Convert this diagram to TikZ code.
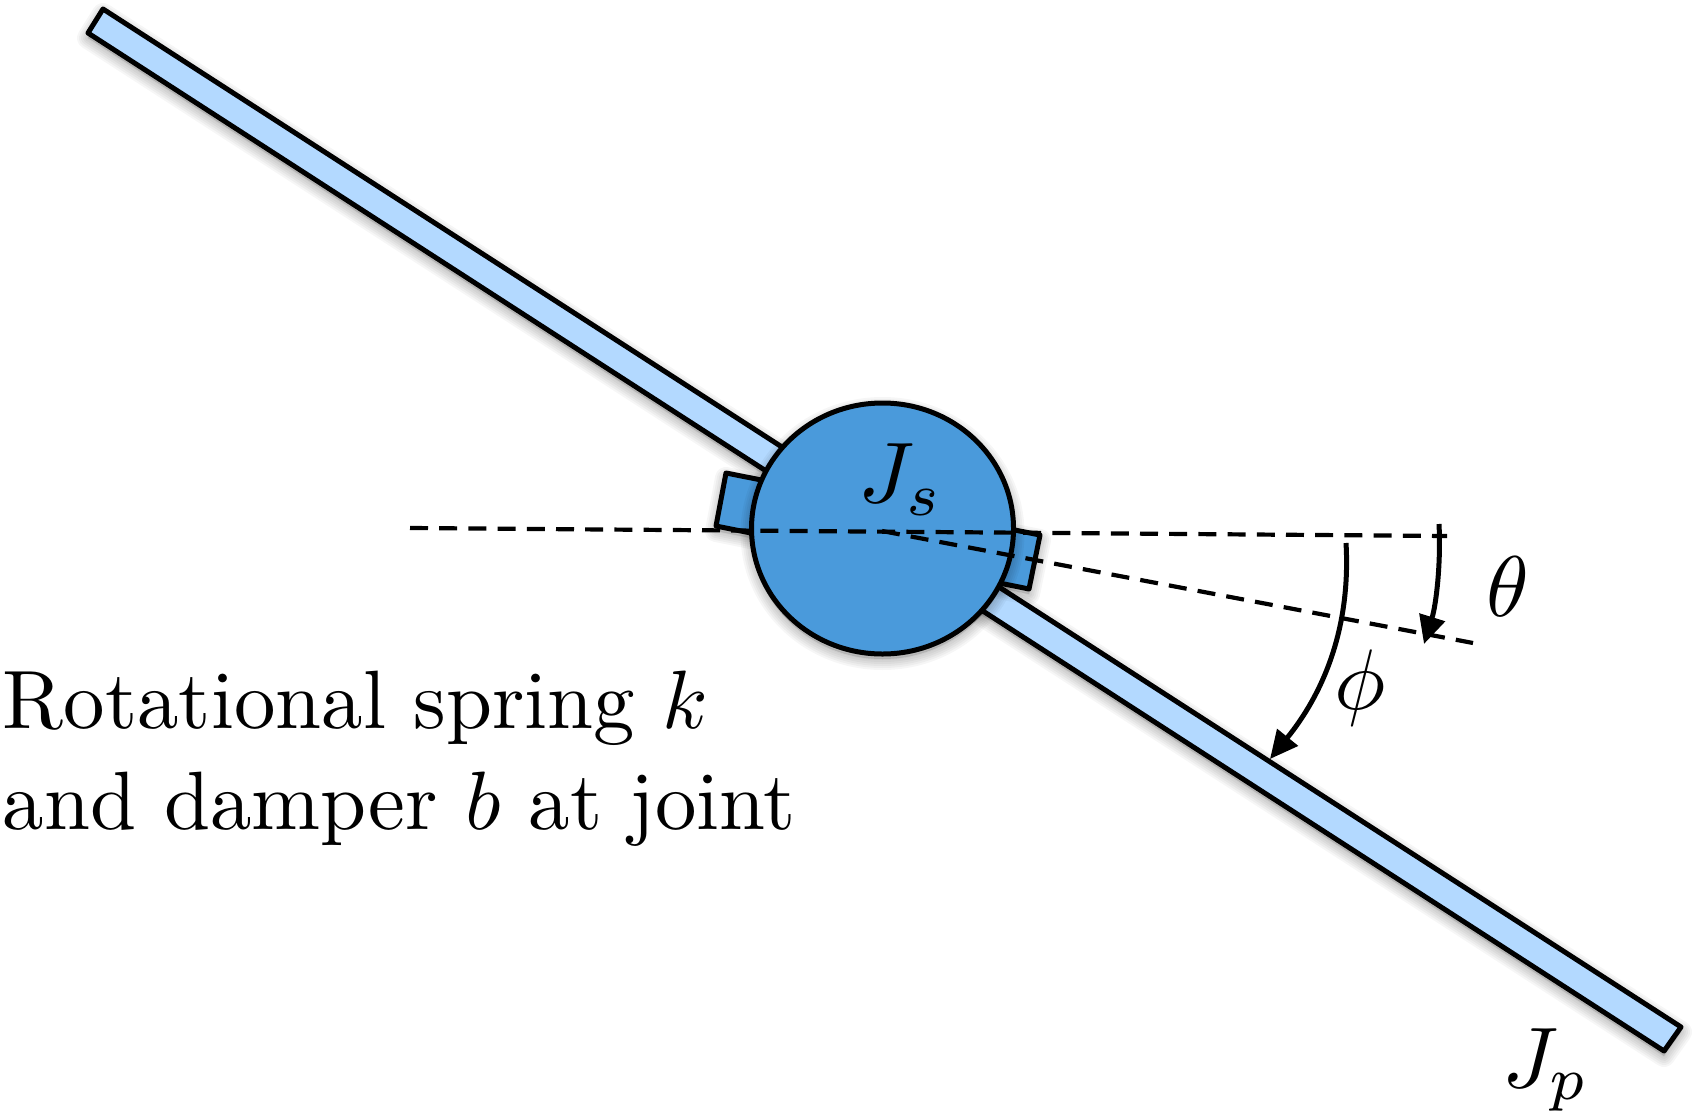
\documentclass[tikz,border=0pt]{standalone}
\usepackage{amsmath}
\usetikzlibrary{arrows.meta,shapes.geometric}
\definecolor{barblue}{HTML}{B3D9FF}
\definecolor{hubblue}{HTML}{4A9ADB}
\newcommand{\softshadow}[1]{%
  \foreach \w in {22,18,14,10,6,2}{%
    \path[draw=black,line width=\w*0.5pt,draw opacity=0.035,fill=black,fill opacity=0.02,line join=round,shift={(0,5)}] #1;}}
\tikzset{
  outline/.style={draw=black,line width=2.5pt,line join=round},
  dashline/.style={draw=black,line width=2.1pt,dash pattern=on 9pt off 5.6pt},
  anglearrow/.style={draw=black,line width=2.5pt,-{Triangle[length=14pt,width=13pt]}},
  label/.style={scale=4.3,inner sep=0pt,outer sep=0pt,text=black},
  note/.style={scale=4.14,inner sep=0pt,outer sep=0pt,anchor=base west,text=black},
}
\begin{document}
\begin{tikzpicture}[x=0.5pt,y=-0.5pt]
\useasboundingbox[fill=white] (0,0) rectangle (1700,1113);
% bar
\softshadow{(103,9) -- (88,33) -- (1664,1051) -- (1681,1027) -- cycle}
\draw[outline,fill=barblue] (103,9) -- (88,33) -- (1664,1051) -- (1681,1027) -- cycle;
% tab
\softshadow{(726,473) -- (716,526) -- (1029,589) -- (1040,535) -- cycle}
\draw[outline,fill=hubblue] (726,473) -- (716,526) -- (1029,589) -- (1040,535) -- cycle;
% hub
\softshadow{(882.5,528.5) ellipse[x radius=131,y radius=125.5]}
\node[ellipse,draw=black,line width=2.5pt,fill=hubblue,minimum width=131pt,minimum height=125.5pt,inner sep=0pt] (hub) at (882.5,528.5) {};
% reference lines
\coordinate (hleft) at (410,528);
\coordinate (hright) at (1447,536);
\coordinate (pivot) at (882,531);
\coordinate (slant) at (1473,643);
\draw[dashline] (hleft) -- (hright);
\draw[dashline] (pivot) -- (slant);
% angle arrows
\coordinate (thetaA) at (1439,524);
\coordinate (thetaB) at (1424,644);
\coordinate (phiA) at (1346,543);
\coordinate (phiB) at (1270,759);
\draw[anglearrow] (thetaA) .. controls (1441,565) and (1436,605) .. (thetaB);
\draw[anglearrow] (phiA) .. controls (1351,630) and (1322,695) .. (phiB);
% labels
\node[label] (js) at (901,480) {$J_s$};
\node[label] (jp) at (1546,1070) {$J_p$};
\node[label] (theta) at (1508,587) {$\theta$};
\node[label] (phi) at (1360,688) {$\phi$};
\node[note] (line1) at (3,728) {Rotational spring $k$};
\node[note] (line2) at (3,829) {and damper $b$ at joint};
\end{tikzpicture}
\end{document}
